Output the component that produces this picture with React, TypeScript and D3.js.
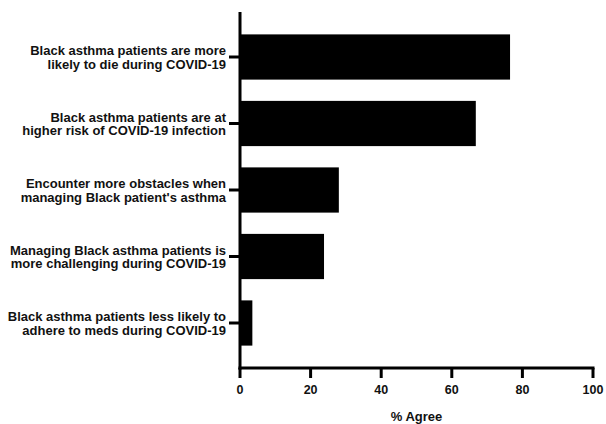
import React from "react";
import * as d3 from "d3";

const categories: string[][] = [
  ["Black asthma patients are more", "likely to die during COVID-19"],
  ["Black asthma patients are at", "higher risk of COVID-19 infection"],
  ["Encounter more obstacles when", "managing Black patient's asthma"],
  ["Managing Black asthma patients is", "more challenging during COVID-19"],
  ["Black asthma patients less likely to", "adhere to meds during COVID-19"],
];
const values: number[] = [76.5, 66.8, 28.0, 23.8, 3.5];
const xTicks: number[] = [0, 20, 40, 60, 80, 100];
const xLabel = "% Agree";

const W = 606;
const H = 424;
const left = 240;
const right = 593;
const top = 12;
const bottom = 368;

export default function App() {
  const x = d3.scaleLinear().domain([0, 100]).range([left, right]);
  const ids = categories.map((_, i) => String(i));
  const y = d3
    .scaleBand<string>()
    .domain(ids)
    .range([23.75, 356.25])
    .paddingInner(0.32)
    .paddingOuter(0.16);
  const font = "'Liberation Sans', Arial, Helvetica, sans-serif";
  return (
    <svg
      width={W}
      height={H}
      style={{ position: "absolute", left: 0, top: 0, background: "#fff" }}
      fontFamily={font}
    >
      {values.map((v, i) => (
        <rect
          key={i}
          x={x(0)}
          y={y(String(i))}
          width={x(v) - x(0)}
          height={y.bandwidth()}
          fill="#000"
        />
      ))}
      {/* y axis */}
      <line x1={left} x2={left} y1={top} y2={bottom + 1.5} stroke="#000" strokeWidth={3} />
      {categories.map((lines, i) => {
        const cy = (y(String(i)) as number) + y.bandwidth() / 2;
        return (
          <g key={i}>
            <line x1={left - 11} x2={left} y1={cy} y2={cy} stroke="#000" strokeWidth={3} />
            <text
              x={226}
              y={cy}
              textAnchor="end"
              fontSize={13}
              fontWeight="bold"
              fill="#111"
            >
              <tspan x={226} dy={-2}>{lines[0]}</tspan>
              <tspan x={226} dy={13.5}>{lines[1]}</tspan>
            </text>
          </g>
        );
      })}
      {/* x axis */}
      <line x1={left - 1.5} x2={right + 1.5} y1={bottom} y2={bottom} stroke="#000" strokeWidth={3} />
      {xTicks.map((t) => (
        <g key={t}>
          <line x1={x(t)} x2={x(t)} y1={bottom} y2={bottom + 10} stroke="#000" strokeWidth={3} />
          <text
            x={x(t)}
            y={394}
            textAnchor="middle"
            fontSize={12.5}
            fontWeight="bold"
            fill="#111"
          >
            {t}
          </text>
        </g>
      ))}
      <text
        x={(left + right) / 2}
        y={421}
        textAnchor="middle"
        fontSize={13}
        fontWeight="bold"
        fill="#111"
      >
        {xLabel}
      </text>
    </svg>
  );
}
